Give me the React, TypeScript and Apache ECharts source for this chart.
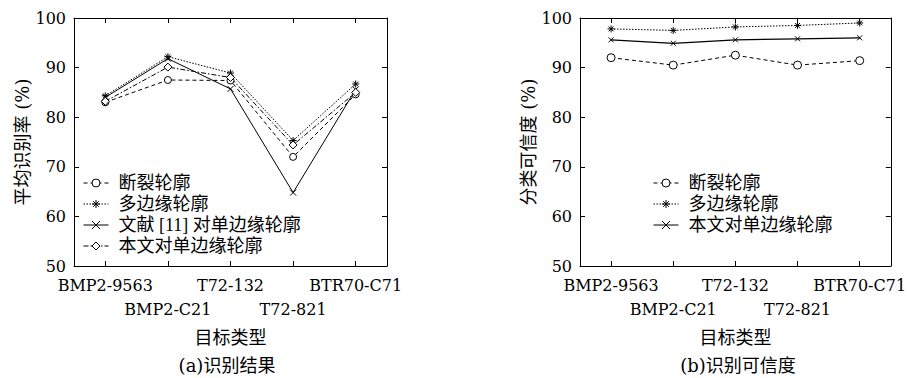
import React, { useEffect, useRef } from "react";
import * as echarts from "echarts";

const categories = ["BMP2-9563", "BMP2-C21", "T72-132", "T72-821", "BTR70-C71"];

// (a) 识别结果
const aDuanlie = [83.0, 87.5, 87.4, 72.0, 84.6];
const aDuobian = [84.3, 92.2, 88.9, 75.3, 86.7];
const aWenxian = [84.0, 91.8, 85.7, 64.8, 85.6];
const aBenwen = [83.2, 90.1, 88.0, 74.4, 85.0];

// (b) 识别可信度
const bDuanlie = [92.0, 90.5, 92.5, 90.5, 91.4];
const bDuobian = [97.8, 97.5, 98.2, 98.5, 99.0];
const bBenwen = [95.6, 94.9, 95.6, 95.8, 96.0];

const yTicks = { min: 50, max: 100, interval: 10 };

const SERIF = "'DejaVu Serif', 'Noto Sans CJK SC', serif";
const LEG = "'Liberation Serif', 'Noto Sans CJK SC', serif";
const ASTERISK = "path://M5 0V10M0 5H10M1.5 1.5L8.5 8.5M1.5 8.5L8.5 1.5";
const CROSS = "path://M0 0L10 10M0 10L10 0";
const CIRCLE = "path://M10 5A5 5 0 1 1 0 5A5 5 0 1 1 10 5Z";
const DIAMOND = "path://M5 0L10 5L5 10L0 5Z";

export default function App() {
  const ref = useRef<HTMLDivElement>(null);
  useEffect(() => {
    document.body.style.margin = "0";
    const chart = echarts.init(ref.current!, null, { renderer: "svg" });

    const grids = [
      { left: 74, top: 18, width: 313, height: 248 },
      { left: 580, top: 18, width: 312, height: 248 },
    ];

    const axisLine = { show: true, lineStyle: { color: "#000", width: 1 } };
    const tick = { show: true, inside: true, length: 5, lineStyle: { color: "#000" } };
    const labelFont = { color: "#000", fontFamily: SERIF, fontSize: 16 };

    const xAxes: any[] = [];
    const yAxes: any[] = [];
    [0, 1].forEach((g) => {
      xAxes.push({
        type: "category",
        gridIndex: g,
        data: categories,
        position: "bottom",
        boundaryGap: true,
        axisLine,
        axisTick: { ...tick, alignWithLabel: true, interval: 0 },
        axisLabel: {
          ...labelFont,
          margin: 11,
          interval: (i: number) => i % 2 === 0,
        },
        name: "目标类型",
        nameLocation: "middle",
        nameGap: 62,
        nameTextStyle: { color: "#000", fontFamily: SERIF, fontSize: 18 },
        splitLine: { show: false },
      });
      xAxes.push({
        type: "category",
        gridIndex: g,
        data: categories,
        position: "bottom",
        boundaryGap: true,
        axisLine: { show: false },
        axisTick: { show: false },
        axisLabel: {
          ...labelFont,
          margin: 35,
          interval: (i: number) => i % 2 === 1,
        },
        splitLine: { show: false },
      });
      xAxes.push({
        type: "category",
        gridIndex: g,
        data: categories,
        position: "top",
        boundaryGap: true,
        axisLine,
        axisTick: { ...tick, alignWithLabel: true, interval: 0 },
        axisLabel: { show: false },
        splitLine: { show: false },
      });
      yAxes.push({
        type: "value",
        gridIndex: g,
        position: "left",
        ...yTicks,
        axisLine,
        axisTick: tick,
        axisLabel: { ...labelFont, margin: 8 },
        name: g === 0 ? "平均识别率 (%)" : "分类可信度 (%)",
        nameLocation: "middle",
        nameRotate: 90,
        nameGap: g === 0 ? 41 : 38,
        nameTextStyle: { color: "#000", fontFamily: SERIF, fontSize: 18 },
        splitLine: { show: false },
      });
      yAxes.push({
        type: "value",
        gridIndex: g,
        position: "right",
        ...yTicks,
        axisLine,
        axisTick: tick,
        axisLabel: { show: false },
        splitLine: { show: false },
      });
    });

    const mk = (
      name: string,
      data: number[],
      g: number,
      symbol: string,
      size: number,
      dash: any,
      hollow: boolean,
      width = 1
    ) => ({
      type: "line",
      name,
      data,
      xAxisIndex: g * 3,
      yAxisIndex: g * 2,
      symbol,
      symbolSize: size,
      lineStyle: { color: "#000", width, type: dash },
      itemStyle: { color: hollow ? "#fff" : "#000", borderColor: "#000", borderWidth: 1 },
      emphasis: { disabled: true },
    });

    const dashed = [4, 3];
    const dotted = [1.5, 1.5];
    const dashDot = [5, 2, 1.5, 2];

    const series = [
      mk("断裂轮廓", aDuanlie, 0, CIRCLE, 7, dashed, true),
      mk("多边缘轮廓", aDuobian, 0, ASTERISK, 7, dotted, false),
      mk("文献 [11] 对单边缘轮廓", aWenxian, 0, CROSS, 6, "solid", false),
      mk("本文对单边缘轮廓", aBenwen, 0, DIAMOND, 8, dashDot, true),
      mk("b:断裂轮廓", bDuanlie, 1, CIRCLE, 8, dashed, true),
      mk("b:多边缘轮廓", bDuobian, 1, ASTERISK, 7, dotted, false),
      mk("b:本文对单边缘轮廓", bBenwen, 1, CROSS, 5, "solid", false, 1.3),
    ];

    const legendCommon = {
      orient: "vertical",
      padding: 0,
      itemWidth: 25,
      itemHeight: 10,
      itemGap: 1,
      selectedMode: false,
      lineStyle: { width: 1 },
      itemStyle: { borderWidth: 1 },
      textStyle: {
        color: "#000",
        fontFamily: LEG,
        fontSize: 18,
        lineHeight: 20,
        padding: [0, 0, 0, 5],
      },
      formatter: (n: string) => n.replace(/^b:/, ""),
    };

    chart.setOption({
      animation: false,
      backgroundColor: "#fff",
      grid: grids,
      xAxis: xAxes,
      yAxis: yAxes,
      series,
      legend: [
        {
          ...legendCommon,
          left: 83,
          top: 173,
          data: ["断裂轮廓", "多边缘轮廓", "文献 [11] 对单边缘轮廓", "本文对单边缘轮廓"],
        },
        {
          ...legendCommon,
          left: 653,
          top: 173,
          data: ["b:断裂轮廓", "b:多边缘轮廓", "b:本文对单边缘轮廓"],
        },
      ],
      graphic: [
        {
          type: "text",
          x: 227,
          y: 365,
          style: {
            text: "(a)识别结果",
            fill: "#000",
            font: `18px ${SERIF}`,
            textAlign: "center",
            textVerticalAlign: "middle",
          },
        },
        {
          type: "text",
          x: 738,
          y: 365,
          style: {
            text: "(b)识别可信度",
            fill: "#000",
            font: `18px ${SERIF}`,
            textAlign: "center",
            textVerticalAlign: "middle",
          },
        },
      ],
    });
    return () => chart.dispose();
  }, []);
  return <div ref={ref} style={{ width: 909, height: 378 }} />;
}
